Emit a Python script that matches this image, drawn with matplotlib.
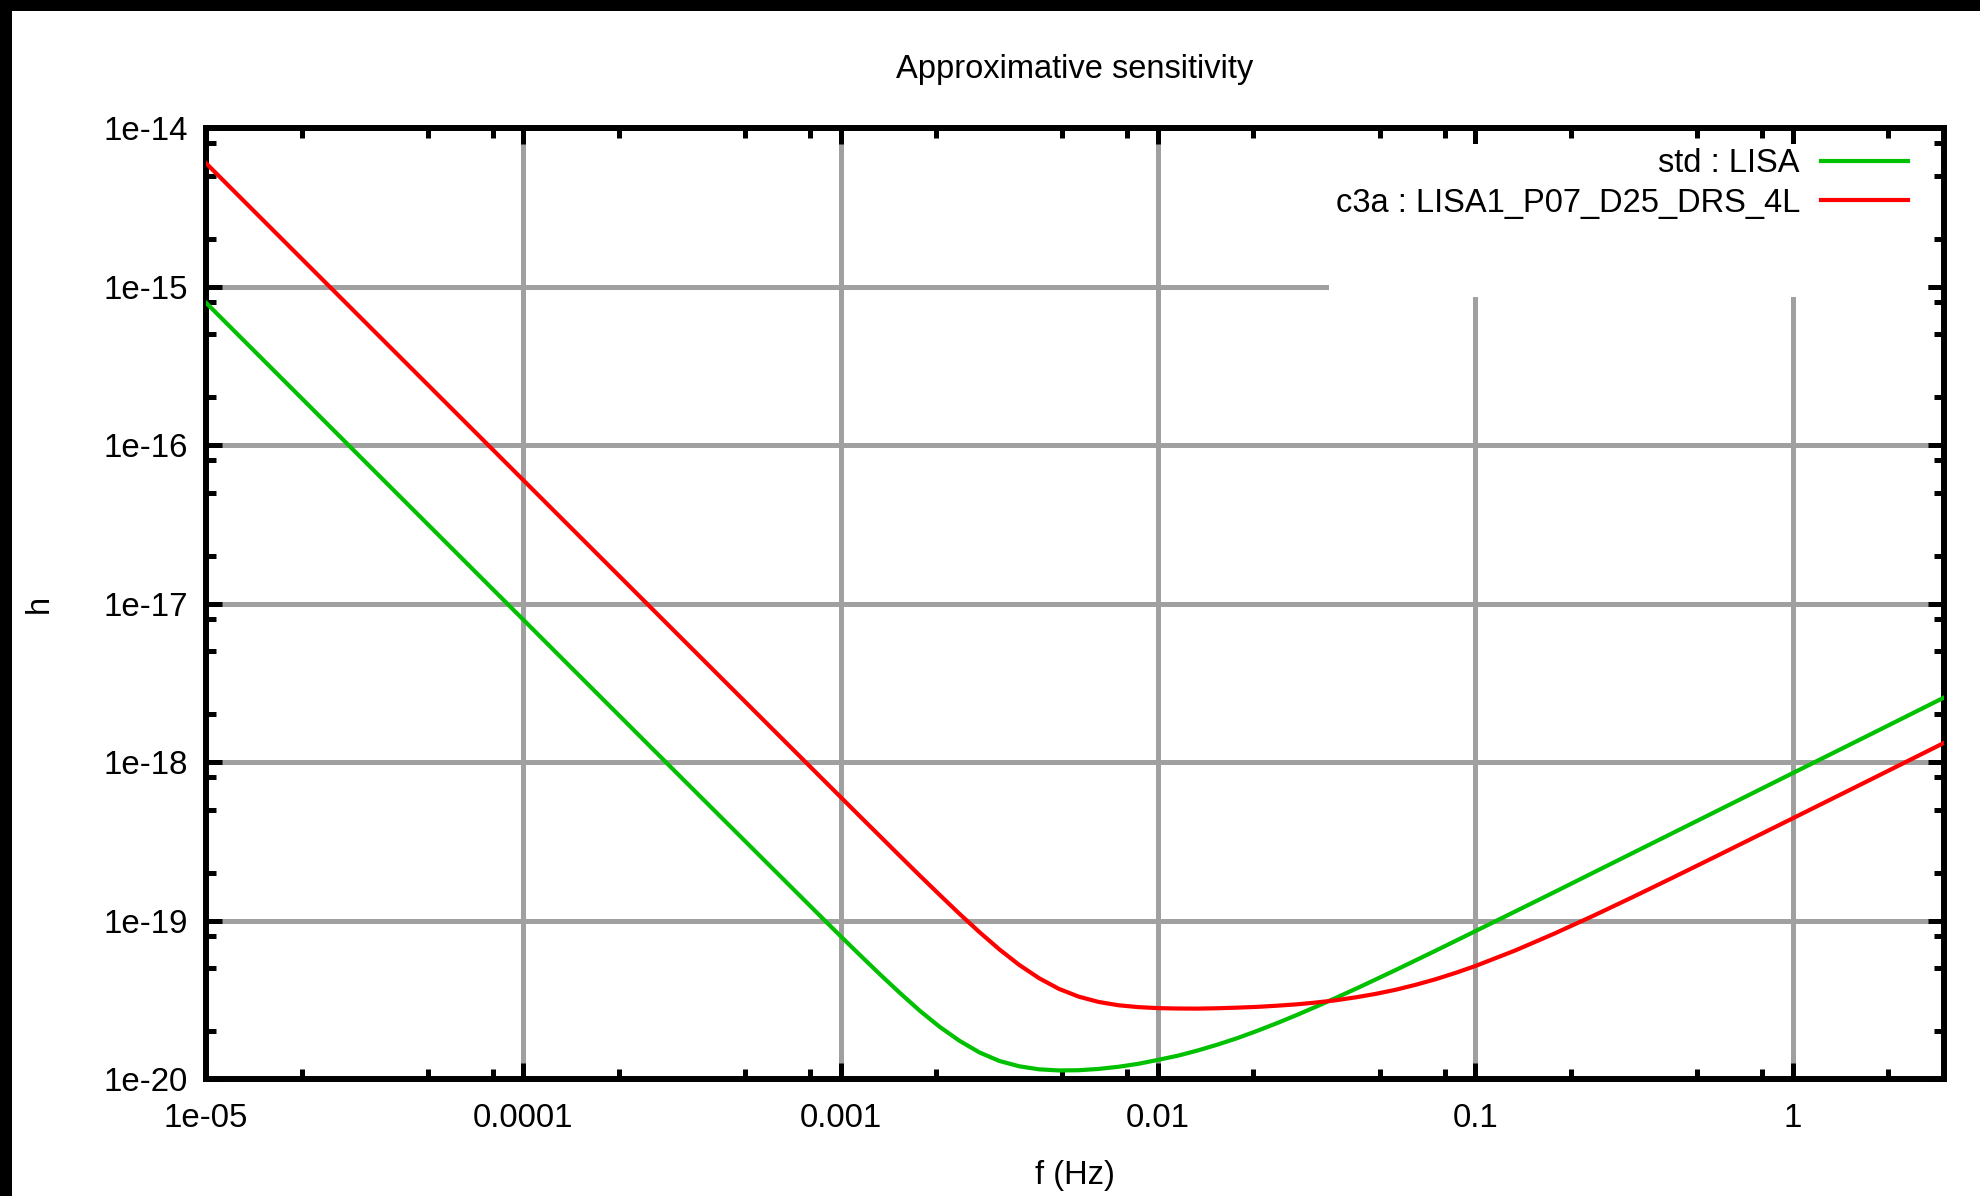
import matplotlib
matplotlib.use('Agg')
import matplotlib.pyplot as plt
from matplotlib.patches import Rectangle
from matplotlib.ticker import LogLocator, NullFormatter

plt.rcParams['font.family'] = ['Liberation Sans', 'DejaVu Sans']

# ---- data ----
freq = [1e-5, 3.162e-5, 1e-4, 3.162e-4, 8.66e-4, 1e-3, 1.1548e-3, 1.334e-3,
        1.540e-3, 1.778e-3, 2.054e-3, 2.371e-3, 2.738e-3, 3.162e-3, 3.652e-3,
        4.217e-3, 4.870e-3, 5.623e-3, 6.494e-3, 7.499e-3, 8.660e-3, 1e-2,
        1.1548e-2, 1.334e-2, 1.540e-2, 1.778e-2, 2.054e-2, 2.371e-2, 2.738e-2,
        3.162e-2, 3.652e-2, 4.217e-2, 4.870e-2, 5.623e-2, 6.494e-2, 7.499e-2,
        8.660e-2, 0.1, 0.1334, 0.1778, 0.2371, 0.3162, 0.4217, 0.5623, 1.0,
        1.778, 3.0]
h_std = [7.9e-16, 7.9e-17, 7.9e-18, 7.9e-19, 1.0583e-19, 7.96e-20, 6.009e-20, 4.55e-20,
         3.480e-20, 2.69e-20, 2.130e-20, 1.74e-20, 1.471e-20, 1.30e-20, 1.203e-20,
         1.151e-20, 1.1324e-20, 1.136e-20, 1.1575e-20, 1.194e-20, 1.2462e-20, 1.32e-20,
         1.4025e-20, 1.513e-20, 1.6476e-20, 1.81e-20, 2.012e-20, 2.25e-20, 2.533e-20,
         2.87e-20, 3.261e-20, 3.72e-20, 4.259e-20, 4.88e-20, 5.610e-20, 6.45e-20,
         7.429e-20, 8.56e-20, 1.1383e-19, 1.513e-19, 2.018e-19, 2.69e-19, 3.586e-19,
         4.78e-19, 8.5e-19, 1.51e-18, 2.55e-18]
h_c3a = [6.0e-15, 6.0e-16, 6.0e-17, 6.0e-18, 8.006e-19, 6.006e-19, 4.507e-19, 3.386e-19,
         2.544e-19, 1.916e-19, 1.448e-19, 1.10e-19, 8.448e-20, 6.58e-20, 5.249e-20,
         4.33e-20, 3.706e-20, 3.31e-20, 3.065e-20, 2.92e-20, 2.842e-20, 2.80e-20,
         2.784e-20, 2.78e-20, 2.795e-20, 2.82e-20, 2.851e-20, 2.90e-20, 2.958e-20,
         3.04e-20, 3.142e-20, 3.28e-20, 3.447e-20, 3.66e-20, 3.931e-20, 4.26e-20,
         4.670e-20, 5.16e-20, 6.461e-20, 8.28e-20, 1.0778e-19, 1.417e-19, 1.875e-19,
         2.489e-19, 4.408e-19, 7.82e-19, 1.32e-18]
series_labels = ['std : LISA', 'c3a : LISA1_P07_D25_DRS_4L']
xticks = [1e-5, 1e-4, 1e-3, 1e-2, 1e-1, 1]
xticklabels = ['1e-05', '0.0001', '0.001', '0.01', '0.1', '1']
yticks = [1e-20, 1e-19, 1e-18, 1e-17, 1e-16, 1e-15, 1e-14]
yticklabels = ['1e-20', '1e-19', '1e-18', '1e-17', '1e-16', '1e-15', '1e-14']

W, H = 1981, 1196
fig = plt.figure(figsize=(W / 100, H / 100), dpi=100)
fig.patch.set_facecolor('white')

L, R, T, B = 206, 1944, 128, 1079
ax = fig.add_axes([L / W, 1 - B / H, (R - L) / W, (B - T) / H])

ax.set_xscale('log')
ax.set_yscale('log')
ax.set_xlim(1e-5, 3.0)
ax.set_ylim(1e-20, 1e-14)

ax.plot(freq, h_std, color='#00c000', lw=3.0, label=series_labels[0], zorder=3)
ax.plot(freq, h_c3a, color='#ff0000', lw=3.0, label=series_labels[1], zorder=3)

ax.set_xticks(xticks, xticklabels)
ax.set_yticks(yticks, yticklabels)
ax.xaxis.set_minor_locator(LogLocator(base=10, subs=(2, 5, 8), numticks=30))
ax.yaxis.set_minor_locator(LogLocator(base=10, subs=(2, 5, 8), numticks=30))
ax.xaxis.set_minor_formatter(NullFormatter())
ax.yaxis.set_minor_formatter(NullFormatter())

ax.tick_params(which='both', direction='in', top=True, right=True, width=3.6, colors='black')
ax.tick_params(which='major', length=11.5, labelsize=23.8)
ax.tick_params(which='minor', length=7.2)
ax.tick_params(axis='x', which='major', pad=17)
ax.tick_params(axis='y', which='major', pad=13)

for s in ax.spines.values():
    s.set_linewidth(4.3)
    s.set_color('black')

ax.grid(True, which='major', color='#a0a0a0', lw=3.6)

# key area clears the grid (as gnuplot does)
kx0 = (1329 - L) / (R - L)
kx1 = (1928 - L) / (R - L)
ky0 = (B - 297) / (B - T)
ky1 = (B - 144) / (B - T)
ax.add_patch(Rectangle((kx0, ky0), kx1 - kx0, ky1 - ky0, transform=ax.transAxes,
                       facecolor='white', edgecolor='none', zorder=1.6))

ax.set_title('Approximative sensitivity', fontsize=23.5, pad=36)
ax.set_xlabel('f (Hz)', fontsize=23.5)
ax.xaxis.set_label_coords(0.5, -0.085)
ax.set_ylabel('h', fontsize=23.5)
ax.yaxis.set_label_coords(-0.087, 0.5)

ax.legend(loc='upper right', bbox_to_anchor=((1908 - L) / (R - L), (B - 148) / (B - T)),
          markerfirst=False, frameon=False, fontsize=23.5, handlelength=2.67,
          handletextpad=0.64, labelspacing=0.27, borderpad=0, borderaxespad=0)

# black screen margins at top and left
fig.patches.append(Rectangle((0, 1 - 11 / H), 1, 11 / H, transform=fig.transFigure,
                             facecolor='black', edgecolor='none'))
fig.patches.append(Rectangle((0, 0), 12 / W, 1, transform=fig.transFigure,
                             facecolor='black', edgecolor='none'))

fig.savefig('out.png', dpi=100, facecolor='white')
